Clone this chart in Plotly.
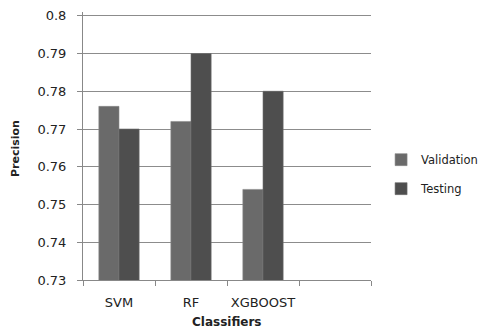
import plotly.graph_objects as go

categories = ["SVM", "RF", "XGBOOST", " "]
validation = [0.776, 0.772, 0.754, None]
testing = [0.770, 0.790, 0.780, None]
series_names = ["Validation", "Testing"]
y_ticks = [0.73, 0.74, 0.75, 0.76, 0.77, 0.78, 0.79, 0.8]
y_tick_labels = ["0.73", "0.74", "0.75", "0.76", "0.77", "0.78", "0.79", "0.8"]

fig = go.Figure()
fig.add_trace(go.Bar(x=categories, y=validation, name=series_names[0],
                     marker=dict(color="#6a6a6a", line=dict(color="#8a8a8a", width=0.6)),
                     legendgroup="a"))
fig.add_trace(go.Bar(x=categories, y=testing, name=series_names[1],
                     marker=dict(color="#4e4e4e", line=dict(color="#6e6e6e", width=0.6)),
                     legendgroup="b"))

font = "DejaVu Sans, Verdana, sans-serif"
fig.update_layout(
    width=481, height=323,
    margin=dict(l=75, r=118, t=4, b=51, autoexpand=False),
    paper_bgcolor="white", plot_bgcolor="white",
    barmode="group", bargap=0.44, bargroupgap=0,
    font=dict(family=font, size=12, color="#222222"),
    legend=dict(x=1.035, y=0.395, xanchor="left", yanchor="middle",
                font=dict(size=11.5, color="#222222"), tracegroupgap=10,
                itemwidth=30),
    xaxis=dict(type="category", categoryorder="array", categoryarray=categories,
               tickson="boundaries", ticks="outside", ticklen=5, tickcolor="#888888",
               tickangle=0, automargin=False, ticklabelstandoff=10,
               showline=True, linecolor="#888888", linewidth=1,
               showgrid=False, tickfont=dict(size=13, color="#222222")),
    yaxis=dict(range=[0.73, 0.801], tickvals=y_ticks, ticktext=y_tick_labels,
               ticks="outside", ticklen=5, tickcolor="#888888", automargin=False,
               ticklabelstandoff=8,
               showline=True, linecolor="#888888", linewidth=1,
               showgrid=True, gridcolor="#8c8c8c", gridwidth=1,
               zeroline=False, tickfont=dict(size=13, color="#222222")),
    annotations=[
        dict(text="<b>Classifiers</b>", xref="paper", yref="paper", x=0.5, y=-0.155,
             xanchor="center", yanchor="middle", showarrow=False,
             font=dict(size=12, color="#222222")),
        dict(text="<b>Precision</b>", xref="paper", yref="paper", x=-0.235, y=0.49,
             xanchor="center", yanchor="middle", showarrow=False, textangle=-90,
             font=dict(size=11, color="#222222")),
    ],
)

fig.write_html("out.html")
